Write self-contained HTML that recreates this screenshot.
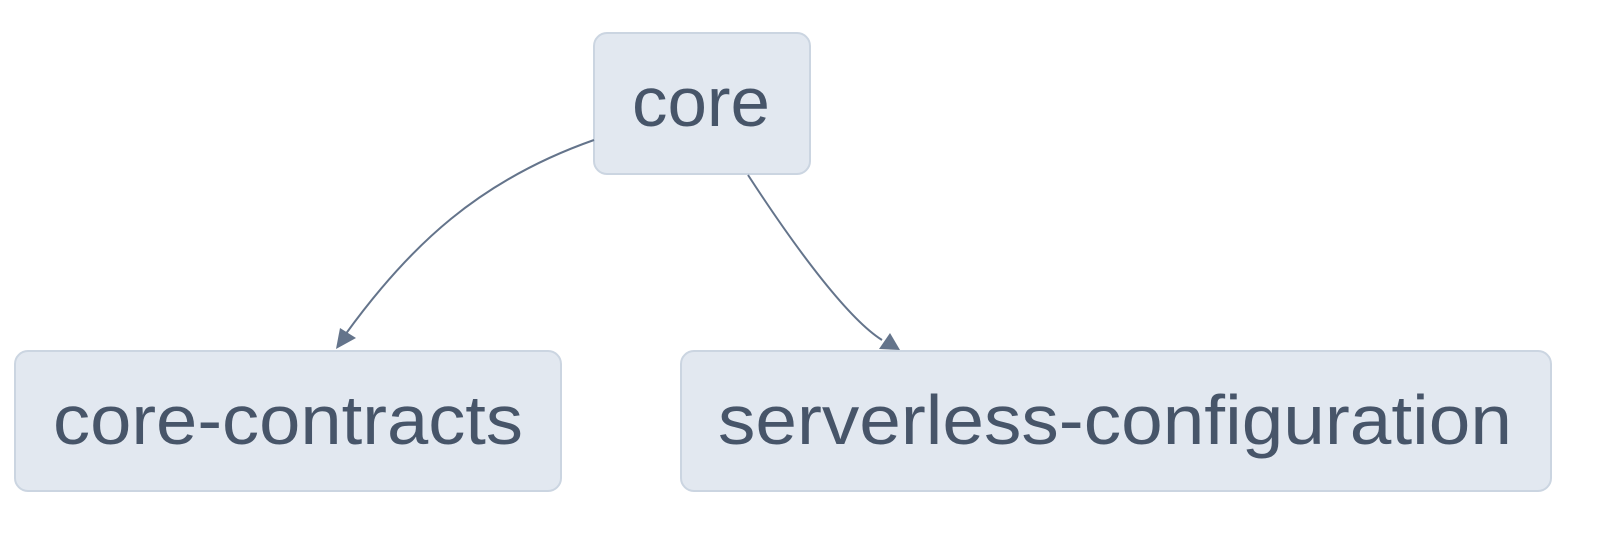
<!DOCTYPE html>
<html><head><meta charset="utf-8"><style>html,body{margin:0;padding:0;background:#fff;}svg{display:block}</style></head>
<body>
<svg width="1607" height="540" viewBox="0 0 1607 540" xmlns="http://www.w3.org/2000/svg">
<g fill="#e2e8f0" stroke="#cbd5e1" stroke-width="2">
<rect x="594" y="33" width="216" height="141" rx="13"/>
<rect x="15" y="351" width="546" height="140" rx="13"/>
<rect x="681" y="351" width="870" height="140" rx="13"/>
</g>
<g fill="none" stroke="#64748b" stroke-width="2">
<path d="M594,140 C480,180 410,245 345,335"/>
<path d="M748,175 C800,255 850,320 882,340"/>
</g>
<g fill="#64748b">
<polygon points="336,349 340,328 356,338"/>
<polygon points="900,350 879,349 890,333"/>
</g>
<g fill="#475569" font-family="Liberation Sans, sans-serif" font-size="70">
<text x="632" y="126" textLength="138" lengthAdjust="spacingAndGlyphs">core</text>
<text x="53" y="444" textLength="470" lengthAdjust="spacingAndGlyphs">core-contracts</text>
<text x="718" y="444" textLength="794" lengthAdjust="spacingAndGlyphs">serverless-configuration</text>
</g>
</svg>
</body></html>
